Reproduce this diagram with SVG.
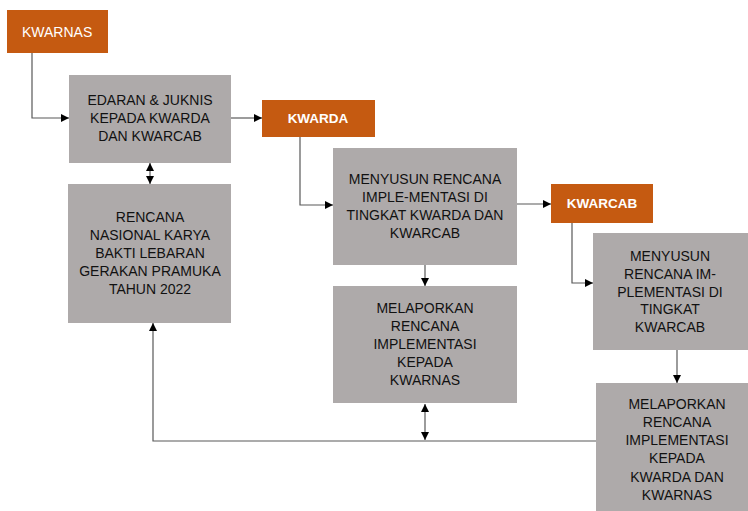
<svg xmlns="http://www.w3.org/2000/svg" width="748" height="511" viewBox="0 0 748 511">
<style>
.org{fill:#C55A11}
.box{fill:#AEAAAA}
.lt{font-family:"Liberation Sans",Arial,sans-serif;font-size:14px;fill:#fff}
.ltb{font-family:"Liberation Sans",Arial,sans-serif;font-size:13.5px;font-weight:bold;fill:#fff}
.t{font-family:"Liberation Sans",Arial,sans-serif;font-size:14px;fill:#111;text-anchor:middle}
.c{fill:none;stroke:#595959;stroke-width:1.2}
</style>
<defs>
<marker id="ah" markerWidth="8" markerHeight="8" refX="8" refY="4" orient="auto" markerUnits="userSpaceOnUse">
<path d="M0,0 L8,4 L0,8 Z" fill="#000"/>
</marker>
<marker id="as" markerWidth="8" markerHeight="8" refX="0" refY="4" orient="auto" markerUnits="userSpaceOnUse">
<path d="M8,0 L0,4 L8,8 Z" fill="#000"/>
</marker>
</defs>
<rect width="748" height="511" fill="#fff"/>
<g id="connectors">
<path class="c" d="M32,53 V118 H69" marker-end="url(#ah)"/>
<path class="c" d="M231,118 H262" marker-end="url(#ah)"/>
<path class="c" d="M150,163 V184" marker-start="url(#as)" marker-end="url(#ah)"/>
<path class="c" d="M300,137 V205 H333" marker-end="url(#ah)"/>
<path class="c" d="M517,204 H551" marker-end="url(#ah)"/>
<path class="c" d="M425,265 V286" marker-end="url(#ah)"/>
<path class="c" d="M572,223 V283 H593" marker-end="url(#ah)"/>
<path class="c" d="M677,350 V383" marker-end="url(#ah)"/>
<path class="c" d="M596,441 H153 V323" marker-end="url(#ah)"/>
<path class="c" d="M425,404 V440" marker-start="url(#as)" marker-end="url(#ah)"/>
</g>
<g id="kwarnas">
<rect class="org" x="7" y="10" width="101" height="43"/>
<text class="lt" x="22" y="37">KWARNAS</text>
</g>
<g id="edaran">
<rect class="box" x="69" y="75" width="162" height="88"/>
<text class="t" x="150" y="105">EDARAN &amp; JUKNIS</text>
<text class="t" x="150" y="123">KEPADA KWARDA</text>
<text class="t" x="150" y="141">DAN KWARCAB</text>
</g>
<g id="rencana">
<rect class="box" x="68" y="184" width="163" height="139"/>
<text class="t" x="150" y="222">RENCANA</text>
<text class="t" x="150" y="240">NASIONAL KARYA</text>
<text class="t" x="150" y="258">BAKTI LEBARAN</text>
<text class="t" x="150" y="276">GERAKAN PRAMUKA</text>
<text class="t" x="150" y="294">TAHUN 2022</text>
</g>
<g id="kwarda">
<rect class="org" x="262" y="100" width="113" height="37"/>
<text class="ltb" x="318" y="123" text-anchor="middle">KWARDA</text>
</g>
<g id="menyusun1">
<rect class="box" x="333" y="148" width="184" height="117"/>
<text class="t" x="425" y="184">MENYUSUN RENCANA</text>
<text class="t" x="425" y="202">IMPLE-MENTASI DI</text>
<text class="t" x="425" y="220">TINGKAT KWARDA DAN</text>
<text class="t" x="425" y="238">KWARCAB</text>
</g>
<g id="melaporkan1">
<rect class="box" x="333" y="286" width="184" height="117"/>
<text class="t" x="425" y="313">MELAPORKAN</text>
<text class="t" x="425" y="331">RENCANA</text>
<text class="t" x="425" y="349">IMPLEMENTASI</text>
<text class="t" x="425" y="367">KEPADA</text>
<text class="t" x="425" y="385">KWARNAS</text>
</g>
<g id="kwarcab">
<rect class="org" x="551" y="184" width="102" height="39"/>
<text class="ltb" x="602" y="208" text-anchor="middle">KWARCAB</text>
</g>
<g id="menyusun2">
<rect class="box" x="593" y="233" width="155" height="117"/>
<text class="t" x="670" y="261">MENYUSUN</text>
<text class="t" x="670" y="279">RENCANA IM-</text>
<text class="t" x="670" y="297">PLEMENTASI DI</text>
<text class="t" x="670" y="314">TINGKAT</text>
<text class="t" x="670" y="332">KWARCAB</text>
</g>
<g id="melaporkan2">
<rect class="box" x="596" y="383" width="152" height="128"/>
<text class="t" x="677" y="409">MELAPORKAN</text>
<text class="t" x="677" y="427">RENCANA</text>
<text class="t" x="677" y="445">IMPLEMENTASI</text>
<text class="t" x="677" y="463">KEPADA</text>
<text class="t" x="677" y="482">KWARDA DAN</text>
<text class="t" x="677" y="500">KWARNAS</text>
</g>
</svg>
